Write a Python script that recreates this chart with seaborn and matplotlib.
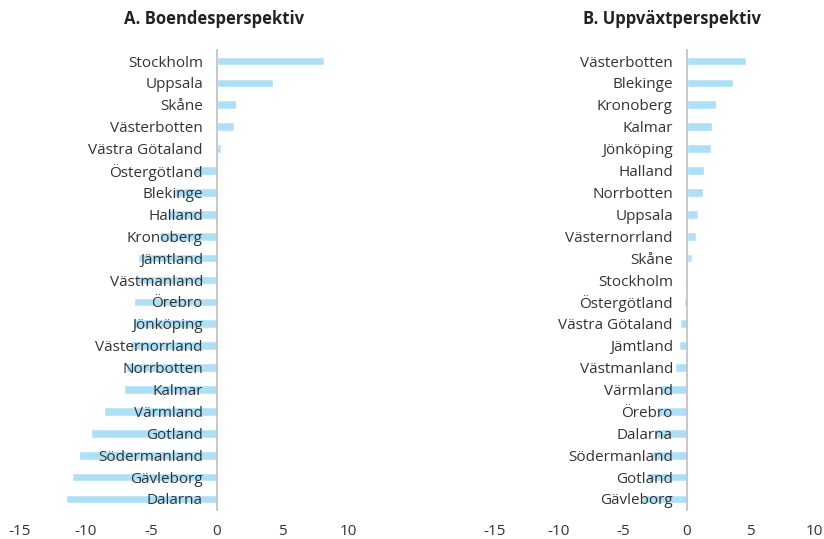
import matplotlib
matplotlib.use("Agg")
import matplotlib.pyplot as plt
import seaborn as sns
import pandas as pd

# Panel A - Boendesperspektiv
boende_lan = ['Stockholm', 'Uppsala', 'Skåne', 'Västerbotten', 'Västra Götaland',
              'Östergötland', 'Blekinge', 'Halland', 'Kronoberg', 'Jämtland',
              'Västmanland', 'Örebro', 'Jönköping', 'Västernorrland', 'Norrbotten',
              'Kalmar', 'Värmland', 'Gotland', 'Södermanland', 'Gävleborg', 'Dalarna']
boende_varde = [8.2, 4.25, 1.5, 1.3, 0.35, -1.7, -3.3, -3.8, -4.4, -6.0,
                -6.1, -6.3, -6.4, -6.6, -6.9, -7.1, -8.6, -9.6, -10.5, -11.0, -11.5]

# Panel B - Uppväxtperspektiv
uppvaxt_lan = ['Västerbotten', 'Blekinge', 'Kronoberg', 'Kalmar', 'Jönköping',
               'Halland', 'Norrbotten', 'Uppsala', 'Västernorrland', 'Skåne',
               'Stockholm', 'Östergötland', 'Västra Götaland', 'Jämtland',
               'Västmanland', 'Värmland', 'Örebro', 'Dalarna', 'Södermanland',
               'Gotland', 'Gävleborg']
uppvaxt_varde = [4.6, 3.65, 2.3, 1.95, 1.9, 1.35, 1.25, 0.9, 0.7, 0.4,
                 -0.12, -0.2, -0.5, -0.6, -0.9, -2.1, -2.3, -2.6, -2.7, -3.1, -3.5]

titles = ['A. Boendesperspektiv', 'B. Uppväxtperspektiv']
xticks = [-15, -10, -5, 0, 5, 10]

bar_color = '#ade0f7'
text_color = '#333333'

sns.set_theme(style='white')
plt.rcParams['font.family'] = ['Open Sans', 'DejaVu Sans']
plt.rcParams['axes.unicode_minus'] = False

fig = plt.figure(figsize=(8.24, 5.39), dpi=100)
ax_a = fig.add_axes([0.0243, 0.054, 0.398, 0.853])
ax_b = fig.add_axes([0.6007, 0.054, 0.388, 0.853])

panels = [(ax_a, boende_lan, boende_varde), (ax_b, uppvaxt_lan, uppvaxt_varde)]
for ax, lan, varde in panels:
    df = pd.DataFrame({'lan': lan, 'varde': varde})
    sns.barplot(data=df, x='varde', y='lan', color=bar_color, saturation=1,
                width=0.4, ax=ax)
    ax.set_axisbelow(False)
    ax.set_xlim(-15, 10)
    ax.set_ylim(20.5, -0.5)
    ax.set_xticks(xticks)
    ax.set_xlabel('')
    ax.set_ylabel('')
    for s in ['top', 'right', 'bottom']:
        ax.spines[s].set_visible(False)
    ax.spines['left'].set_position(('data', 0))
    ax.spines['left'].set_color('#bfbfbf')
    ax.spines['left'].set_linewidth(1.2)
    ax.tick_params(axis='y', length=0, pad=10, labelsize=11, labelcolor=text_color)
    ax.tick_params(axis='x', length=0, pad=10, labelsize=11, labelcolor=text_color)
    ax.set_facecolor('none')

fig.text(0.26, 0.965, titles[0], ha='center', va='center', fontsize=12,
         fontweight='bold', color='#222222')
fig.text(0.816, 0.965, titles[1], ha='center', va='center', fontsize=12,
         fontweight='bold', color='#222222')

fig.savefig('out.png', dpi=100, facecolor='white')
